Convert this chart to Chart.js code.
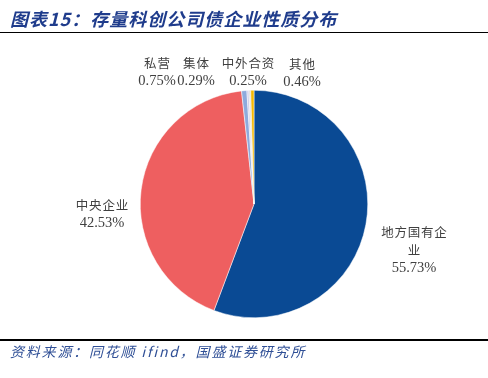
<!DOCTYPE html>
<html>
<head>
<meta charset="utf-8">
<script src="https://cdn.jsdelivr.net/npm/chart.js@4/dist/chart.umd.min.js"></script>
<style>
  html, body { margin: 0; padding: 0; background: #fff; }
  #wrap { position: relative; width: 488px; height: 378px; overflow: hidden; }
  #chart { position: absolute; left: 0; top: 0; }
  .title {
    position: absolute; left: 10px; top: 5px;
    font-family: "Noto Sans CJK SC", sans-serif; font-size: 18px; letter-spacing: 1px;
    font-weight: bold; font-style: italic; color: #1f3c8c; white-space: nowrap;
  }
  .rule { position: absolute; left: 0; width: 488px; background: #000; }
  .source {
    position: absolute; left: 10px; top: 341px;
    font-family: "Noto Sans CJK SC", sans-serif; font-size: 14px; letter-spacing: 1.8px;
    font-style: italic; color: #2f4f96; white-space: nowrap;
  }
</style>
</head>
<body>
<div id="wrap">
  <canvas id="chart" width="488" height="378"></canvas>
  <div class="title">图表15：存量科创公司债企业性质分布</div>
  <div class="rule" style="top:32px;height:1px;"></div>
  <div class="rule" style="top:339px;height:2px;"></div>
  <div class="source">资料来源：同花顺 ifind，国盛证券研究所</div>
</div>
<script>
// Data
const categories = ['地方国有企业', '中央企业', '私营', '集体', '中外合资', '其他'];
const shares = [55.73, 42.53, 0.75, 0.29, 0.25, 0.46];
const sliceColors = ['#0a4a94', '#ee5f60', '#8eaadc', '#cfcde9', '#d9d9d9', '#f5b800'];

// Label layout (name lines + pct), canvas coordinates of text centre
const labelSpots = [
  { x: 414, y: 232, lines: ['地方国有企', '业'] },
  { x: 102, y: 205, lines: ['中央企业'] },
  { x: 157, y: 63, lines: ['私营'] },
  { x: 196, y: 63, lines: ['集体'] },
  { x: 248, y: 63, lines: ['中外合资'] },
  { x: 302, y: 64, lines: ['其他'] }
];

const labelPlugin = {
  id: 'sliceLabels',
  afterDraw(chart) {
    const ctx = chart.ctx;
    ctx.save();
    ctx.fillStyle = '#404040';
    ctx.textAlign = 'center';
    ctx.textBaseline = 'middle';
    labelSpots.forEach((spot, i) => {
      let y = spot.y;
      ctx.font = '12.5px "Noto Sans CJK SC", sans-serif';
      spot.lines.forEach(line => {
        ctx.fillText(line.split('').join(String.fromCharCode(8202)), spot.x, y);
        y += 18;
      });
      ctx.font = '14.5px "Liberation Serif", serif';
      ctx.fillText(shares[i].toFixed(2) + '%', spot.x, y);
    });
    ctx.restore();
  }
};

new Chart(document.getElementById('chart'), {
  type: 'pie',
  data: {
    labels: categories,
    datasets: [{
      data: shares,
      backgroundColor: sliceColors,
      borderColor: '#ffffff',
      borderWidth: 0.5
    }]
  },
  options: {
    responsive: false,
    animation: false,
    layout: { padding: { left: 140, right: 120, top: 90, bottom: 60 } },
    plugins: {
      legend: { display: false },
      tooltip: { enabled: false }
    }
  },
  plugins: [labelPlugin]
});
</script>
</body>
</html>
